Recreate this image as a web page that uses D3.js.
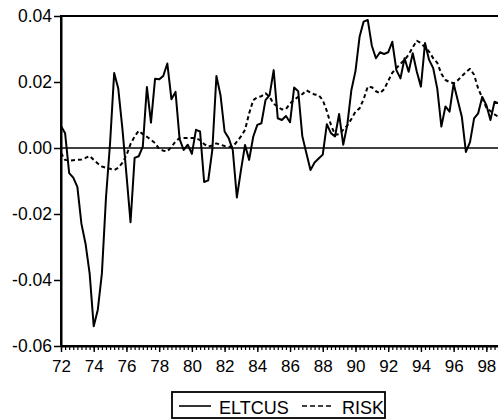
<!DOCTYPE html>
<html>
<head>
<meta charset="utf-8">
<script src="https://cdn.jsdelivr.net/npm/d3@7"></script>
<style>
  html, body { margin: 0; padding: 0; background: #fff; }
  svg { display: block; font-family: "Liberation Sans", Arial, sans-serif; }
</style>
</head>
<body>
<div id="chart"></div>
<script>
// Quarterly series, first observation 1972Q1
const startYear = 1972;
const eltcus = [
  0.0067, 0.0045, -0.0076, -0.009, -0.0118, -0.023, -0.029, -0.038,
  -0.054, -0.049, -0.038, -0.015, 0.0015, 0.0227, 0.018, 0.006,
  -0.008, -0.0225, -0.003, -0.0025, 0.0004, 0.0185, 0.0077, 0.021,
  0.0208, 0.0218, 0.0256, 0.0148, 0.017, 0.0027, -0.0006, 0.001,
  -0.0018, 0.0055, 0.005, -0.0103, -0.0098, -0.0006, 0.0218, 0.016,
  0.005, 0.003, -0.0006, -0.015, -0.0067, 0.0009, -0.0036, 0.0034,
  0.007, 0.0075, 0.0145, 0.016, 0.0236, 0.009, 0.0085, 0.0097,
  0.0078, 0.0183, 0.0172, 0.0036, -0.0016, -0.0067, -0.0044, -0.0032,
  -0.002, 0.0072, 0.0045, 0.0035, 0.0103, 0.001, 0.007, 0.0176,
  0.0233, 0.0337, 0.0383, 0.0388, 0.031, 0.0272, 0.029, 0.0285,
  0.029, 0.0322, 0.0236, 0.0211, 0.0272, 0.0231, 0.0287, 0.0231,
  0.0186, 0.0318, 0.0267, 0.0242, 0.018, 0.0065, 0.0126, 0.011,
  0.0195, 0.0145, 0.0095, -0.0012, 0.0018, 0.009, 0.0105, 0.0155,
  0.013, 0.0085, 0.014, 0.0135
];
const risk = [
  -0.0015, -0.0036, -0.0038, -0.0037, -0.0036, -0.0035, -0.003, -0.0024,
  -0.0036, -0.0047, -0.0056, -0.006, -0.0063, -0.0067, -0.006, -0.0045,
  -0.0022, 0.0012, 0.0035, 0.0052, 0.0042, 0.0034, 0.0025, 0.0015,
  -0.0003, -0.0008, -0.001, 0.0003, 0.002, 0.003, 0.003, 0.003,
  0.003, 0.003, 0.0024, 0.0012, 0.0004, 0.0008, 0.0014, 0.001,
  0.0006, 0.0004, 0.0004, 0.0019, 0.0035, 0.0055, 0.0105, 0.0145,
  0.0154, 0.0157, 0.0166, 0.0155, 0.0134, 0.0125, 0.0117, 0.0118,
  0.0135, 0.0146, 0.0155, 0.0163, 0.0175, 0.0168, 0.0162, 0.016,
  0.0145, 0.0112, 0.007, 0.004, 0.0042, 0.0055, 0.0068, 0.0088,
  0.011, 0.012, 0.0148, 0.0186, 0.0184, 0.0172, 0.0166, 0.0178,
  0.0203, 0.0228, 0.0242, 0.0255, 0.0267, 0.0283, 0.0305, 0.0325,
  0.0318, 0.0305, 0.0292, 0.0272, 0.0258, 0.0225, 0.0206, 0.02,
  0.0196, 0.0205, 0.0218, 0.023, 0.024, 0.0222, 0.018, 0.0152,
  0.0122, 0.0112, 0.0102, 0.0094
];
const yTicks = [-0.06, -0.04, -0.02, 0.00, 0.02, 0.04];
const xTickLabels = ["72", "74", "76", "78", "80", "82", "84", "86", "88", "90", "92", "94", "96", "98"];
const seriesNames = ["ELTCUS", "RISK"];

const W = 498, H = 419;
const plot = { left: 61, top: 16, bottom: 346, right: 61 + 27 * 16.36 };

const svg = d3.select("#chart").append("svg")
  .attr("width", W)
  .attr("height", H);

svg.append("rect").attr("width", W).attr("height", H).attr("fill", "#fff");

const x = d3.scaleLinear()
  .domain([startYear, startYear + 27])
  .range([plot.left, plot.right]);

const y = d3.scaleLinear()
  .domain([-0.06, 0.04])
  .range([plot.bottom, plot.top]);

const t = i => startYear + i / 4;

// frame
svg.append("rect")
  .attr("x", plot.left)
  .attr("y", plot.top)
  .attr("width", plot.right - plot.left)
  .attr("height", plot.bottom - plot.top)
  .attr("fill", "none")
  .attr("stroke", "#000")
  .attr("stroke-width", 2);

// zero line
svg.append("line")
  .attr("x1", plot.left).attr("x2", plot.right)
  .attr("y1", y(0)).attr("y2", y(0))
  .attr("stroke", "#000")
  .attr("stroke-width", 1.6);

// Y axis (plain hyphen for negatives, like the original)
const fmt = d3.format(".2f");
const yAxis = svg.append("g")
  .attr("transform", `translate(${plot.left},0)`)
  .call(d3.axisLeft(y)
    .tickValues(yTicks)
    .tickFormat(d => fmt(d).replace("\u2212", "-"))
    .tickSize(7)
    .tickSizeOuter(0)
    .tickPadding(2));
yAxis.select(".domain").attr("stroke-width", 2);
yAxis.selectAll(".tick line").attr("stroke-width", 1.5);
yAxis.selectAll("text")
  .attr("font-size", "17.5px")
  .attr("fill", "#000")
  .attr("font-family", "Liberation Sans, Arial, sans-serif");

// X axis: quarter ticks, year ticks, labels every second year
const quarterTicks = d3.range(startYear, startYear + 27.01, 0.25);
const xMinor = svg.append("g")
  .attr("transform", `translate(0,${plot.bottom})`)
  .call(d3.axisBottom(x).tickValues(quarterTicks).tickSize(4).tickSizeOuter(0).tickFormat(""));
xMinor.select(".domain").attr("stroke-width", 2);
xMinor.selectAll(".tick line").attr("stroke-width", 1.2);

const xMajor = svg.append("g")
  .attr("transform", `translate(0,${plot.bottom})`)
  .call(d3.axisBottom(x)
    .tickValues(xTickLabels.map(d => 1900 + +d))
    .tickSize(6)
    .tickSizeOuter(0)
    .tickPadding(8)
    .tickFormat((d, i) => xTickLabels[i]));
xMajor.select(".domain").remove();
xMajor.selectAll(".tick line").attr("stroke-width", 1.4);
xMajor.selectAll("text")
  .attr("font-size", "17px")
  .attr("fill", "#000")
  .attr("font-family", "Liberation Sans, Arial, sans-serif");

// series
svg.append("clipPath").attr("id", "plot-clip")
  .append("rect")
  .attr("x", plot.left).attr("y", plot.top)
  .attr("width", plot.right - plot.left).attr("height", plot.bottom - plot.top);

const line = d3.line()
  .x((d, i) => x(t(i)))
  .y(d => y(d));

const lines = svg.append("g").attr("clip-path", "url(#plot-clip)");

lines.append("path")
  .datum(risk)
  .attr("d", line)
  .attr("fill", "none")
  .attr("stroke", "#000")
  .attr("stroke-width", 2)
  .attr("stroke-dasharray", "4,3")
  .attr("stroke-linejoin", "round");

lines.append("path")
  .datum(eltcus)
  .attr("d", line)
  .attr("fill", "none")
  .attr("stroke", "#000")
  .attr("stroke-width", 2)
  .attr("stroke-linejoin", "round");

// legend
const legend = svg.append("g");
legend.append("rect")
  .attr("x", 172).attr("y", 392)
  .attr("width", 213).attr("height", 26)
  .attr("fill", "#fff")
  .attr("stroke", "#000")
  .attr("stroke-width", 1.8);

const legendItems = [
  { name: seriesNames[0], x: 179, dash: null },
  { name: seriesNames[1], x: 302, dash: "5,3" }
];
legendItems.forEach(item => {
  legend.append("line")
    .attr("x1", item.x).attr("x2", item.x + 32)
    .attr("y1", 406).attr("y2", 406)
    .attr("stroke", "#000")
    .attr("stroke-width", 1.6)
    .attr("stroke-dasharray", item.dash);
  legend.append("text")
    .attr("x", item.x + 40)
    .attr("y", 414)
    .attr("font-size", "18px")
    .attr("fill", "#000")
    .text(item.name);
});
</script>
</body>
</html>
